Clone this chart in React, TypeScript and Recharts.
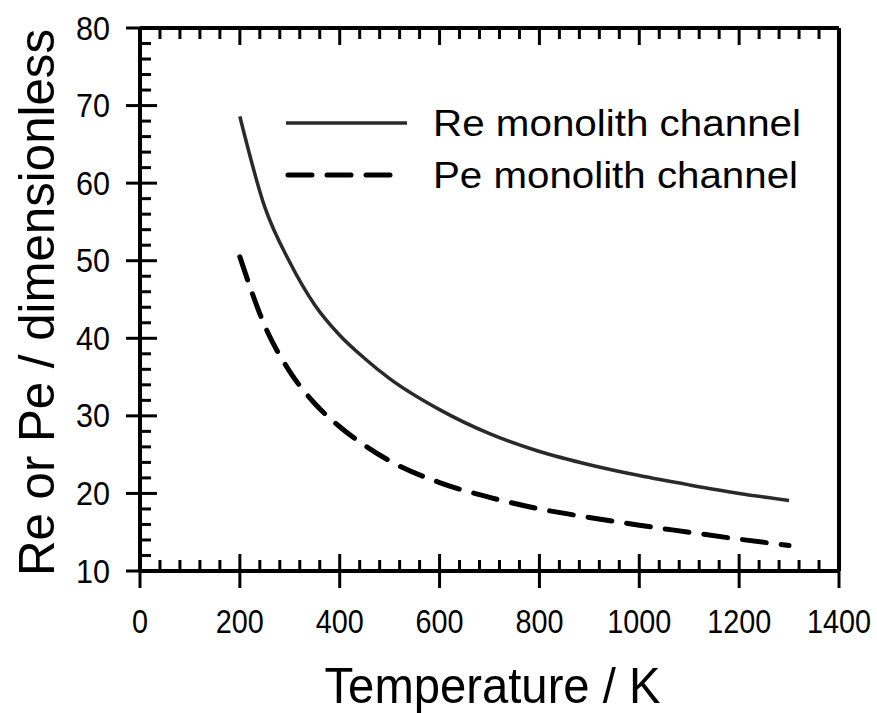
import { LineChart, Line, XAxis, YAxis, Legend } from 'recharts';

// temperature samples (K)
const temps = [200, 250, 300, 350, 400, 450, 500, 600, 700, 800, 900, 1000, 1100, 1200, 1300];
// Reynolds number, monolith channel
const reValues = [68.6, 56.9, 49.8, 44.3, 40.4, 37.4, 34.8, 30.8, 27.7, 25.4, 23.7, 22.3, 21.1, 20.0, 19.1];
// Peclet number, monolith channel
const peValues = [50.5, 41.6, 35.7, 31.6, 28.6, 26.2, 24.2, 21.4, 19.5, 18.0, 16.9, 15.9, 15.0, 14.1, 13.3];

const xMajor = [0, 200, 400, 600, 800, 1000, 1200, 1400];
const yMajor = [10, 20, 30, 40, 50, 60, 70, 80];
const xMinorStep = 40;
const yMinorStep = 2;

const seriesNames = ['Re monolith channel', 'Pe monolith channel'];

const data = temps.map((t, i) => ({ t, re: reValues[i], pe: peValues[i] }));

// minor + major tick positions
const xTicks: number[] = [];
for (let v = 0; v <= 1400; v += xMinorStep) xTicks.push(v);
const yTicks: number[] = [];
for (let v = 10; v <= 80; v += yMinorStep) yTicks.push(v);

const FONT = '"Liberation Sans", Arial, Helvetica, sans-serif';
const INNER_MAJOR = 17;
const INNER_MINOR = 11;
const DIGIT_W = 16; // tick digits are narrow in the original

function BottomTick(props: any) {
  const { x, y, payload } = props;
  const v = payload.value as number;
  const major = xMajor.includes(v);
  const s = String(v);
  return (
    <g>
      <line x1={x} x2={x} y1={y - (major ? INNER_MAJOR : INNER_MINOR)} y2={major ? y + 17 : y} stroke="#000" strokeWidth={3} />
      {major && (
        <text x={x} y={y + 50} textAnchor="middle" dominantBaseline="central" fontSize={33} fontFamily={FONT} textLength={s.length * DIGIT_W} lengthAdjust="spacingAndGlyphs" fill="#000">
          {s}
        </text>
      )}
    </g>
  );
}

function TopTick(props: any) {
  const { x, y, payload } = props;
  const major = xMajor.includes(payload.value);
  return <line x1={x} x2={x} y1={y} y2={y + (major ? INNER_MAJOR : INNER_MINOR)} stroke="#000" strokeWidth={3} />;
}

function LeftTick(props: any) {
  const { x, y, payload } = props;
  const v = payload.value as number;
  const major = yMajor.includes(v);
  const s = String(v);
  return (
    <g>
      <line x1={major ? x - 14 : x} x2={x + (major ? INNER_MAJOR : INNER_MINOR)} y1={y} y2={y} stroke="#000" strokeWidth={3} />
      {major && (
        <text x={x - 30} y={y} textAnchor="end" dominantBaseline="central" fontSize={33} fontFamily={FONT} textLength={s.length * 17} lengthAdjust="spacingAndGlyphs" fill="#000">
          {s}
        </text>
      )}
    </g>
  );
}

function RightTick(props: any) {
  const { x, y, payload } = props;
  const major = yMajor.includes(payload.value);
  return <line x1={x - (major ? INNER_MAJOR : INNER_MINOR)} x2={x} y1={y} y2={y} stroke="#000" strokeWidth={3} />;
}

function XTitle(props: any) {
  const vb = props.viewBox || { x: 140, y: 571, width: 699 };
  return (
    <text x={vb.x + vb.width / 2 + 3} y={vb.y + 132} textAnchor="middle" fontSize={50} fontFamily={FONT} textLength={336} lengthAdjust="spacingAndGlyphs" fill="#000">
      Temperature / K
    </text>
  );
}

function YTitle(props: any) {
  const vb = props.viewBox || { x: 0, y: 28, height: 543 };
  const cx = 37;
  const cy = vb.y + vb.height / 2 + 3;
  return (
    <text x={cx} y={cy} transform={`rotate(-90, ${cx}, ${cy})`} textAnchor="middle" dominantBaseline="central" fontSize={50} fontFamily={FONT} textLength={547} lengthAdjust="spacingAndGlyphs" fill="#000">
      Re or Pe / dimensionless
    </text>
  );
}

function LegendBox() {
  return (
    <svg width={560} height={110} style={{ display: 'block' }}>
      <line x1={16} x2={137} y1={33} y2={33} stroke="#2a2a2a" strokeWidth={3.5} />
      <text x={163} y={33} dominantBaseline="central" fontSize={36} fontFamily={FONT} textLength={368} lengthAdjust="spacingAndGlyphs" fill="#000">
        {seriesNames[0]}
      </text>
      <line x1={18} x2={121} y1={85} y2={85} stroke="#000" strokeWidth={5} strokeDasharray="24 15" strokeLinecap="round" />
      <text x={163} y={85} dominantBaseline="central" fontSize={36} fontFamily={FONT} textLength={365} lengthAdjust="spacingAndGlyphs" fill="#000">
        {seriesNames[1]}
      </text>
    </svg>
  );
}

export default function App() {
  return (
    <div style={{ position: 'absolute', left: 0, top: 0, width: 877, height: 713, background: '#fff' }}>
      <LineChart width={877} height={713} data={data} margin={{ top: 0, right: 0, bottom: 0, left: 0 }}>
        <XAxis
          dataKey="t"
          type="number"
          domain={[0, 1400]}
          ticks={xTicks}
          interval={0}
          height={142}
          tickSize={0}
          tickMargin={0}
          tickLine={false}
          axisLine={{ stroke: '#000', strokeWidth: 4 }}
          tick={<BottomTick />}
          label={<XTitle />}
          allowDataOverflow
        />
        <XAxis
          xAxisId="top"
          orientation="top"
          dataKey="t"
          type="number"
          domain={[0, 1400]}
          ticks={xTicks}
          interval={0}
          height={28}
          tickSize={0}
          tickMargin={0}
          tickLine={false}
          axisLine={{ stroke: '#000', strokeWidth: 4 }}
          tick={<TopTick />}
        />
        <YAxis
          type="number"
          domain={[10, 80]}
          ticks={yTicks}
          interval={0}
          width={140}
          tickSize={0}
          tickMargin={0}
          tickLine={false}
          axisLine={{ stroke: '#000', strokeWidth: 4 }}
          tick={<LeftTick />}
          label={<YTitle />}
          allowDataOverflow
        />
        <YAxis
          yAxisId="right"
          orientation="right"
          type="number"
          domain={[10, 80]}
          ticks={yTicks}
          interval={0}
          width={38}
          tickSize={0}
          tickMargin={0}
          tickLine={false}
          axisLine={{ stroke: '#000', strokeWidth: 4 }}
          tick={<RightTick />}
        />
        <Legend
          layout="horizontal"
          verticalAlign="middle"
          align="center"
          content={() => <LegendBox />}
          wrapperStyle={{ position: 'absolute', top: 90, left: 270, width: 560, height: 110 }}
        />
        <Line
          dataKey="re"
          name={seriesNames[0]}
          type="monotone"
          stroke="#2a2a2a"
          strokeWidth={3.5}
          dot={false}
          isAnimationActive={false}
        />
        <Line
          dataKey="pe"
          name={seriesNames[1]}
          type="monotone"
          stroke="#000"
          strokeWidth={5}
          strokeDasharray="24 15"
          strokeLinecap="round"
          dot={false}
          isAnimationActive={false}
        />
      </LineChart>
    </div>
  );
}
